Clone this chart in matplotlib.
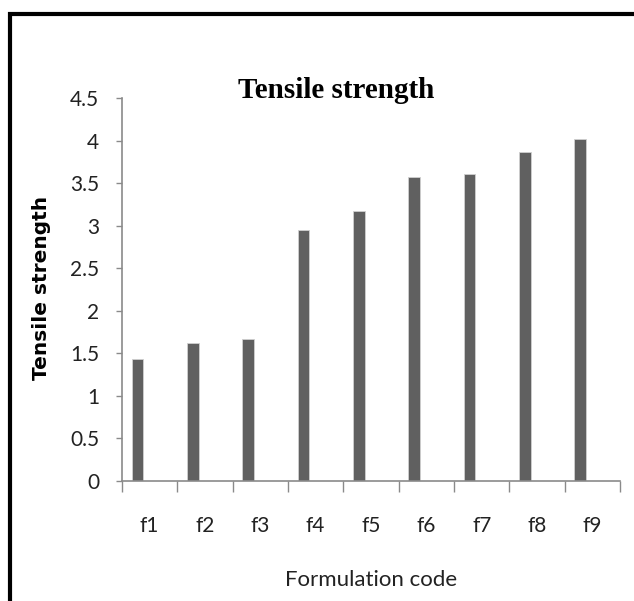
import matplotlib.pyplot as plt
import numpy as np
from matplotlib.lines import Line2D

codes = ['f1', 'f2', 'f3', 'f4', 'f5', 'f6', 'f7', 'f8', 'f9']
tensile = [1.44, 1.62, 1.67, 2.95, 3.17, 3.58, 3.61, 3.87, 4.02]
yticks = [0, 0.5, 1, 1.5, 2, 2.5, 3, 3.5, 4, 4.5]
ytick_labels = ['0', '0.5', '1', '1.5', '2', '2.5', '3', '3.5', '4', '4.5']

axis_grey = '#8a8a8a'
tick_font = ['Lato', 'DejaVu Sans']

fig = plt.figure(figsize=(6.34, 6.01), dpi=100)
ax = fig.add_axes([0.1924, 0.1997, 0.7856, 0.6367])

x = np.arange(len(codes))
ax.bar(x - 0.22, tensile, width=0.21, color='#606060',
       edgecolor='#d0d0d0', linewidth=0.6)

ax.set_xlim(-0.5, len(codes) - 0.5)
ax.set_ylim(0, 4.5)

# category labels sit between the boundary ticks
ax.set_xticks(x)
ax.set_xticklabels(codes, family=tick_font, fontsize=15, color='#222222')
ax.set_xticks(np.arange(len(codes) + 1) - 0.5, minor=True)
ax.tick_params(axis='x', which='major', length=0, pad=25)
ax.tick_params(axis='x', which='minor', length=8, width=1, color=axis_grey)

ax.set_yticks(yticks)
ax.set_yticklabels(ytick_labels, family=tick_font, fontsize=15, color='#222222')
ax.tick_params(axis='y', length=4.5, width=1, color=axis_grey, pad=12)

for side in ['top', 'right']:
    ax.spines[side].set_visible(False)
for side in ['left', 'bottom']:
    ax.spines[side].set_color(axis_grey)
    ax.spines[side].set_linewidth(1.2)

ax.set_xlabel('Formulation code', family=tick_font, fontsize=16,
              color='#222222', labelpad=25)

fig.text(0.0655, 0.5216, 'Tensile strength', rotation=90, ha='center',
         va='center', fontsize=14.5, fontweight='bold', family='DejaVu Sans')

fig.text(0.531, 0.8364, 'Tensile strength', ha='center', va='baseline',
         fontsize=21, fontweight='bold', family='Liberation Serif')

# open black frame running off the right and bottom edges
fig.add_artist(Line2D([0.016, 0.016, 1.0], [0.0, 0.9767, 0.9767],
                      transform=fig.transFigure, color='black', linewidth=3,
                      solid_joinstyle='miter'))

fig.savefig('out.png', dpi=100)
